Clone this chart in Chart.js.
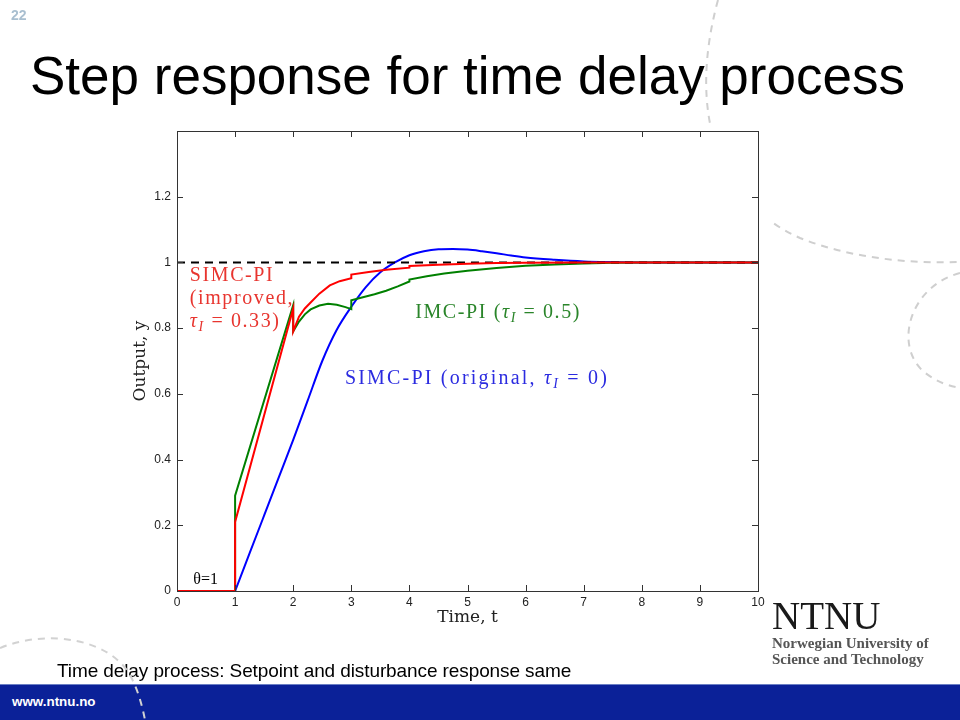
<!DOCTYPE html>
<html>
<head>
<meta charset="utf-8">
<script src="https://cdn.jsdelivr.net/npm/chart.js@4/dist/chart.umd.min.js"></script>
<style>
  body { margin: 0; background: #fff; }
  #slide { position: relative; width: 960px; height: 720px; overflow: hidden; background: #fff;
           font-family: "Liberation Sans", Arial, sans-serif; }
  #deco { position: absolute; left: 0; top: 0; }
  #figbg { position: absolute; left: 118px; top: 126px; width: 652px; height: 510px; background: #fff; }
  #chartBox { position: absolute; left: 0; top: 0; width: 960px; height: 720px; }
  #pageNo { position: absolute; left: 11px; top: 8px; font-size: 14px; line-height: 14px; font-weight: bold; color: #a9bfd0; }
  #title { position: absolute; left: 30px; top: 49px; font-size: 53px; line-height: 53px; color: #000; white-space: nowrap; }
  #note { position: absolute; left: 57px; top: 661px; font-size: 19px; line-height: 19px; color: #000; white-space: nowrap; letter-spacing: -0.1px; }
  #bar { position: absolute; left: 0; top: 684px; width: 960px; height: 36px; background: #0b2198; border-top: 1px solid #6b7fc4; }
  #url { position: absolute; left: 12px; top: 695px; font-size: 13.4px; line-height: 13px; font-weight: bold; color: #fff; }
  #deco2 { position: absolute; left: 0; top: 0; pointer-events: none; }
  #logo { position: absolute; left: 772px; top: 596px; font-family: "Liberation Serif", "Times New Roman", serif; }
  #logo .big { font-size: 39px; line-height: 39px; color: #1a1a1a; }
  #logo .small { font-size: 15px; line-height: 16px; font-weight: bold; color: #555; white-space: nowrap; }
</style>
</head>
<body>
<div id="slide">
  <svg id="deco" width="960" height="720">
    <g fill="none" stroke="#cfcfcf" stroke-width="2" stroke-dasharray="7 6">
      <path d="M718,0 C688,110 715,200 800,238 C850,258 910,264 960,262"/>
      <path d="M960,273 C910,286 893,345 924,372 C938,383 950,386 960,388"/>
    </g>
  </svg>
  <div id="figbg"></div>
  <div id="chartBox"><canvas id="stepChart"></canvas></div>
  <div id="pageNo">22</div>
  <div id="title">Step response for time delay process</div>
  <div id="note">Time delay process: Setpoint and disturbance response same</div>
  <div id="bar"></div>
  <svg id="deco2" width="960" height="720">
    <g fill="none" stroke="#d2d2d2" stroke-width="2" stroke-dasharray="7 6">
      <path d="M0,648 C50,628 110,640 130,675 C138,690 142,705 145,720"/>
    </g>
  </svg>
  <div id="url">www.ntnu.no</div>
  <div id="logo">
    <div class="big">NTNU</div>
    <div class="small">Norwegian University of</div>
    <div class="small">Science and Technology</div>
  </div>
</div>

<script>
// axis ticks
const tTicks = [0, 1, 2, 3, 4, 5, 6, 7, 8, 9, 10];
const yTicks = [0, 0.2, 0.4, 0.6, 0.8, 1, 1.2, 1.4];
const yTickLabels = ['0', '0.2', '0.4', '0.6', '0.8', '1', '1.2', ''];

// setpoint
const setT = [0, 10];
const setY = [1, 1];

// SIMC-PI improved, tauI = 0.33 (red)
const redT = [0, 1, 1, 2, 2, 2.1, 2.2, 2.3, 2.45, 2.63, 2.8, 3, 3, 3.3, 3.6, 4, 4, 4.5, 5, 5.5, 6, 7, 10];
const redY = [0, 0, 0.21, 0.86, 0.79, 0.835, 0.86, 0.878, 0.905, 0.93, 0.943, 0.952, 0.963, 0.971, 0.978, 0.984, 0.989, 0.993, 0.996, 0.998, 0.999, 1, 1];

// IMC-PI, tauI = 0.5 (green)
const greenT = [0, 1, 1, 2, 2, 2.1, 2.2, 2.3, 2.45, 2.6, 2.75, 2.9, 3, 3, 3.2, 3.4, 3.6, 3.8, 4, 4, 4.3, 4.6, 5, 5.5, 6, 6.5, 7, 7.5, 8, 10];
const greenY = [0, 0, 0.29, 0.87, 0.79, 0.82, 0.842, 0.857, 0.869, 0.874, 0.871, 0.864, 0.858, 0.885, 0.894, 0.903, 0.914, 0.927, 0.942, 0.948, 0.958, 0.966, 0.975, 0.983, 0.99, 0.994, 0.997, 0.999, 1, 1];

// SIMC-PI original, tauI = 0 (blue); zero before t = 1 lies under the red line
const blueT = [1, 1.25, 1.5, 1.75, 2, 2.25, 2.5, 2.75, 3, 3.25, 3.5, 3.75, 4, 4.25, 4.5, 4.75, 5, 5.25, 5.5, 5.75, 6, 6.5, 7, 7.5, 8, 10];
const blueY = [0, 0.115, 0.23, 0.345, 0.46, 0.58, 0.70, 0.795, 0.865, 0.925, 0.97, 1.0, 1.022, 1.034, 1.04, 1.041, 1.039, 1.034, 1.028, 1.021, 1.015, 1.008, 1.003, 1.001, 1.0, 1.0];

function pts(ts, ys) {
    return ts.map((t, i) => ({ x: t, y: ys[i] }));
}

// curve labels, placed in data coordinates
const curveNotes = [
    { t: 0.22, y: 0.942, color: '#e8352f', spacing: '1.6px', lines: [
        [['SIMC-PI', '']],
        [['(improved,', '']],
        [['τ', 'it'], ['I', 'sub'], [' = 0.33)', '']]
    ] },
    { t: 4.10, y: 0.83, color: '#2a852a', spacing: '1.6px', lines: [
        [['IMC-PI (', ''], ['τ', 'it'], ['I', 'sub'], [' = 0.5)', '']]
    ] },
    { t: 2.89, y: 0.629, color: '#2b2be0', spacing: '2.2px', lines: [
        [['SIMC-PI (original, ', ''], ['τ', 'it'], ['I', 'sub'], [' = 0)', '']]
    ] }
];

const serif = '"Liberation Serif", "Times New Roman", serif';

function drawRich(ctx, x, y, segs, size) {
    segs.forEach(function (s) {
        const text = s[0], kind = s[1];
        if (kind === 'sub') {
            ctx.font = 'italic ' + Math.round(size * 0.7) + 'px ' + serif;
            ctx.fillText(text, x, y + 4);
        } else {
            ctx.font = (kind === 'it' ? 'italic ' : '') + size + 'px ' + serif;
            ctx.fillText(text, x, y);
        }
        x += ctx.measureText(text).width;
    });
}

const framePlugin = {
    id: 'frame',
    afterDatasetsDraw(chart) {
        const ctx = chart.ctx;
        const a = chart.chartArea;
        const xs = chart.scales.x, ys = chart.scales.y;
        ctx.save();
        ctx.strokeStyle = '#333';
        ctx.lineWidth = 1;
        ctx.strokeRect(a.left + 0.5, a.top + 0.5, a.right - a.left, a.bottom - a.top);
        ctx.beginPath();
        tTicks.forEach(function (v) {
            const px = Math.round(xs.getPixelForValue(v)) + 0.5;
            ctx.moveTo(px, a.bottom); ctx.lineTo(px, a.bottom - 6);
            ctx.moveTo(px, a.top); ctx.lineTo(px, a.top + 6);
        });
        yTicks.forEach(function (v) {
            const py = Math.round(ys.getPixelForValue(v)) + 0.5;
            ctx.moveTo(a.left, py); ctx.lineTo(a.left + 6, py);
            ctx.moveTo(a.right, py); ctx.lineTo(a.right - 6, py);
        });
        ctx.stroke();

        // curve labels
        ctx.textBaseline = 'alphabetic';
        ctx.textAlign = 'left';
        curveNotes.forEach(function (n) {
            ctx.fillStyle = n.color;
            ctx.letterSpacing = n.spacing;
            const x0 = xs.getPixelForValue(n.t);
            const y0 = ys.getPixelForValue(n.y);
            n.lines.forEach(function (segs, i) {
                drawRich(ctx, x0, y0 + i * 23, segs, 20);
            });
        });
        ctx.letterSpacing = '0px';
        ctx.fillStyle = '#000';
        ctx.font = '16px ' + serif;
        ctx.fillText('θ=1', xs.getPixelForValue(0.28), ys.getPixelForValue(0.02));
        ctx.restore();
    }
};

const tickFont = { family: '"Liberation Sans", Arial, sans-serif', size: 12 };

new Chart(document.getElementById('stepChart'), {
    type: 'line',
    data: {
        datasets: [
            { label: 'SIMC-PI (improved)', data: pts(redT, redY), borderColor: '#ff0000', borderWidth: 2, order: 0 },
            { label: 'Setpoint', data: pts(setT, setY), borderColor: '#000', borderWidth: 2, borderDash: [8, 6], order: 1 },
            { label: 'IMC-PI', data: pts(greenT, greenY), borderColor: '#008000', borderWidth: 2, order: 2 },
            { label: 'SIMC-PI (original)', data: pts(blueT, blueY), borderColor: '#0000ff', borderWidth: 2,
              cubicInterpolationMode: 'monotone', order: 3 }
        ]
    },
    options: {
        responsive: true,
        maintainAspectRatio: false,
        animation: false,
        parsing: false,
        elements: { point: { radius: 0 }, line: { tension: 0 } },
        layout: { padding: { left: 126, right: 202, top: 131, bottom: 88 } },
        plugins: { legend: { display: false }, tooltip: { enabled: false } },
        scales: {
            x: {
                type: 'linear', min: 0, max: 10,
                afterBuildTicks: function (s) { s.ticks = tTicks.map(v => ({ value: v })); },
                afterFit: function (s) { s.height = 41; },
                ticks: { font: tickFont, color: '#222', padding: 4, maxRotation: 0, autoSkip: false,
                         callback: v => String(v) },
                grid: { display: false, drawTicks: false },
                border: { display: false },
                title: { display: true, text: 'Time, t', color: '#222',
                         font: { family: '"DejaVu Serif", serif', size: 17 }, padding: { top: 4, bottom: 4 } }
            },
            y: {
                type: 'linear', min: 0, max: 1.4,
                afterBuildTicks: function (s) { s.ticks = yTicks.map(v => ({ value: v })); },
                afterFit: function (s) { s.width = 51; },
                ticks: { font: tickFont, color: '#222', padding: 6, autoSkip: false,
                         callback: (v, i) => yTickLabels[i] },
                grid: { display: false, drawTicks: false },
                border: { display: false },
                title: { display: true, text: 'Output, y', color: '#222',
                         font: { family: '"DejaVu Serif", serif', size: 17 }, padding: { top: 4, bottom: 4 } }
            }
        }
    },
    plugins: [framePlugin]
});
</script>
</body>
</html>
